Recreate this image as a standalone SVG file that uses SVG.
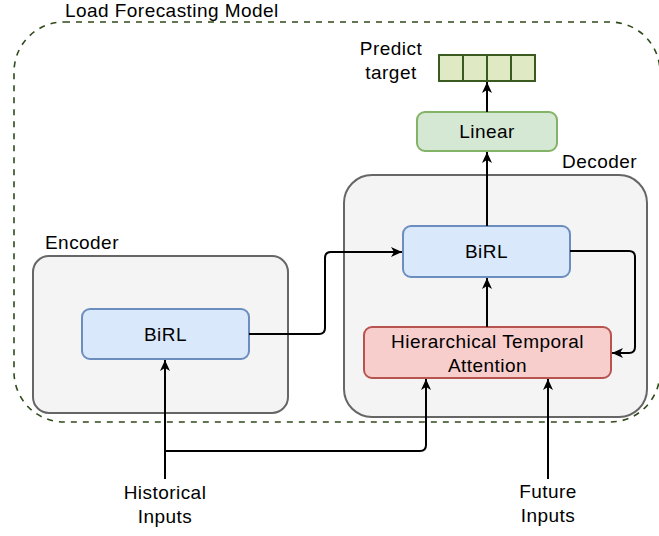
<svg xmlns="http://www.w3.org/2000/svg" width="659" height="536" viewBox="0 0 659 536">
<defs>
<style>
text{font-family:"Liberation Sans",Arial,sans-serif;font-size:19px;letter-spacing:0.45px;fill:#000}
.c{text-anchor:middle}
.grp{fill:#f4f4f4;stroke:#666;stroke-width:2}
.blue{fill:#dae8fc;stroke:#6c8ebf;stroke-width:2}
.red{fill:#f8cecc;stroke:#b85450;stroke-width:2}
.green{fill:#d5e8d4;stroke:#82b366;stroke-width:2}
.cell{fill:#dfe9c3;stroke:#3a5a1f;stroke-width:2}
.edge{fill:none;stroke:#000;stroke-width:2}
</style>
<marker id="ah" viewBox="0 0 12 12" refX="11" refY="6" markerWidth="12" markerHeight="12" markerUnits="userSpaceOnUse" orient="auto">
<path d="M0,1 L11,6 L0,11 L3,6 Z" fill="#000"/>
</marker>
</defs>
<g id="model">
<rect x="14" y="22" width="646" height="400" rx="50" fill="none" stroke="#2f4a1c" stroke-width="1.6" stroke-dasharray="6,6"/>
<text x="65" y="16.5">Load Forecasting Model</text>
</g>
<g id="encoder">
<rect class="grp" x="33" y="256" width="255" height="157" rx="16"/>
<text x="45" y="249">Encoder</text>
</g>
<g id="decoder">
<rect class="grp" x="344" y="175" width="303" height="242" rx="28"/>
<text x="562" y="168">Decoder</text>
</g>
<g id="enc-birl">
<rect class="blue" x="82" y="309" width="167" height="50" rx="8"/>
<text class="c" x="165.5" y="341">BiRL</text>
</g>
<g id="dec-birl">
<rect class="blue" x="403" y="226" width="167" height="51" rx="8"/>
<text class="c" x="486.5" y="258">BiRL</text>
</g>
<g id="hta">
<rect class="red" x="364" y="327" width="247" height="51" rx="8"/>
<text class="c" x="487.5" y="348">Hierarchical Temporal</text>
<text class="c" x="487.5" y="372">Attention</text>
</g>
<g id="linear">
<rect class="green" x="417" y="112" width="140" height="39" rx="8"/>
<text class="c" x="487" y="138">Linear</text>
</g>
<g id="target">
<rect class="cell" x="439" y="55" width="24" height="26"/>
<rect class="cell" x="463" y="55" width="24" height="26"/>
<rect class="cell" x="487" y="55" width="24" height="26"/>
<rect class="cell" x="511" y="55" width="24" height="26"/>
<text class="c" x="391" y="55">Predict</text>
<text class="c" x="391" y="79">target</text>
</g>
<g id="hist">
<text class="c" x="165" y="499">Historical</text>
<text class="c" x="165" y="523">Inputs</text>
</g>
<g id="future">
<text class="c" x="548" y="498">Future</text>
<text class="c" x="548" y="522">Inputs</text>
</g>
<g id="connectors">
<path class="edge" d="M487,112 L487,82" marker-end="url(#ah)"/>
<path class="edge" d="M487,226 L487,152" marker-end="url(#ah)"/>
<path class="edge" d="M487,327 L487,278" marker-end="url(#ah)"/>
<path class="edge" d="M249,334 L319,334 Q325,334 325,328 L325,258 Q325,252 331,252 L402,252" marker-end="url(#ah)"/>
<path class="edge" d="M570,251 L629,251 Q635,251 635,257 L635,347 Q635,353 629,353 L612,353" marker-end="url(#ah)"/>
<path class="edge" d="M165,479 L165,360" marker-end="url(#ah)"/>
<path class="edge" d="M165,451 L420,451 Q426,451 426,445 L426,379" marker-end="url(#ah)"/>
<path class="edge" d="M548,479 L548,379" marker-end="url(#ah)"/>
</g>
</svg>
